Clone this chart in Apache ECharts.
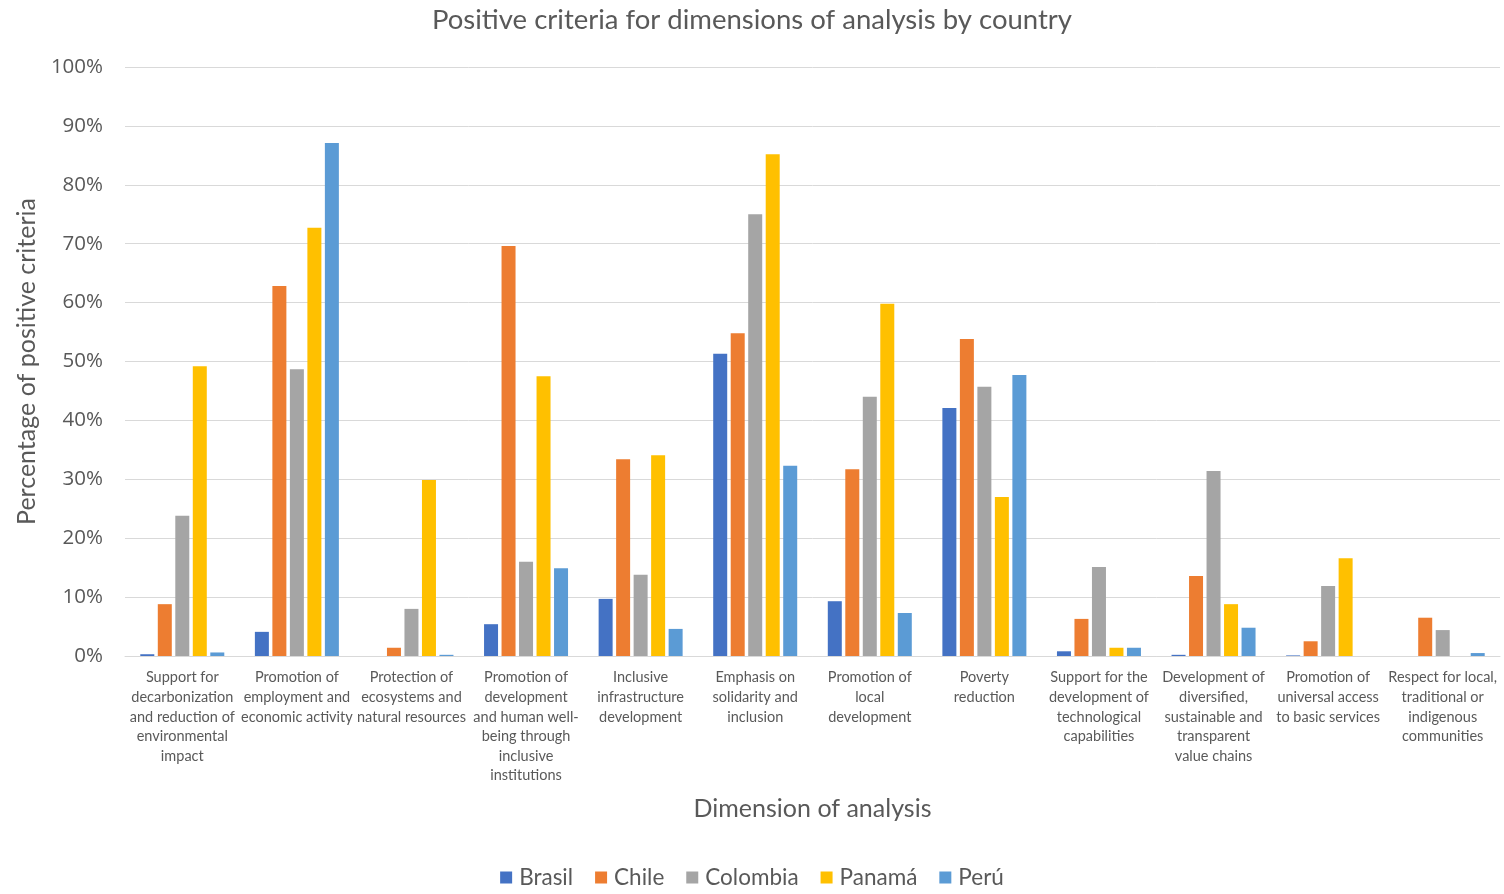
<!DOCTYPE html>
<html>
<head>
<meta charset="utf-8">
<script src="https://cdn.jsdelivr.net/npm/echarts@6/dist/echarts.min.js"></script>
<style>
  html, body { margin: 0; padding: 0; background: #fff; }
  #chart { width: 1504px; height: 894px; }
</style>
</head>
<body>
<div id="chart"></div>
<script>
// Dimensions of analysis (line breaks follow the wrapped axis labels)
const categories = [
  'Support for\ndecarbonization\nand reduction of\nenvironmental\nimpact',
  'Promotion of\nemployment and\neconomic activity',
  'Protection of\necosystems and\nnatural resources',
  'Promotion of\ndevelopment\nand human well-\nbeing through\ninclusive\ninstitutions',
  'Inclusive\ninfrastructure\ndevelopment',
  'Emphasis on\nsolidarity and\ninclusion',
  'Promotion of\nlocal\ndevelopment',
  'Poverty\nreduction',
  'Support for the\ndevelopment of\ntechnological\ncapabilities',
  'Development of\ndiversified,\nsustainable and\ntransparent\nvalue chains',
  'Promotion of\nuniversal access\nto basic services',
  'Respect for local,\ntraditional or\nindigenous\ncommunities'
];

// Share of positive criteria per country (%)
const brasil   = [0.3, 4.1, 0,    5.4, 9.7, 51.3, 9.3, 42.1, 0.8, 0.2, 0.1, 0];
const chile    = [8.8, 62.8, 1.4, 69.6, 33.4, 54.8, 31.7, 53.8, 6.3, 13.6, 2.5, 6.5];
const colombia = [23.8, 48.7, 8.0, 16.0, 13.8, 75.0, 44.0, 45.7, 15.1, 31.4, 11.9, 4.4];
const panama   = [49.2, 72.7, 29.9, 47.5, 34.1, 85.2, 59.8, 27.0, 1.4, 8.8, 16.6, 0];
const peru     = [0.6, 87.1, 0.2, 14.9, 4.6, 32.3, 7.3, 47.7, 1.4, 4.8, 0, 0.5];

const seriesNames = ['Brasil', 'Chile', 'Colombia', 'Panamá', 'Perú'];
const seriesData = [brasil, chile, colombia, panama, peru];
const colors = ['#4472C4', '#ED7D31', '#A5A5A5', '#FFC000', '#5B9BD5'];

const yTicks = [0, 10, 20, 30, 40, 50, 60, 70, 80, 90, 100];

const textColor = '#595959';
const chart = echarts.init(document.getElementById('chart'));

chart.setOption({
  backgroundColor: '#ffffff',
  animation: false,
  color: colors,
  title: {
    text: 'Positive criteria for dimensions of analysis by country',
    left: 'center',
    top: 1,
    textStyle: { fontFamily: 'Lato', fontWeight: 'normal', fontSize: 27.5, color: textColor }
  },
  legend: {
    data: seriesNames,
    bottom: 0,
    left: 'center',
    icon: 'rect',
    itemWidth: 12,
    itemHeight: 12,
    itemGap: 22,
    textStyle: { fontFamily: 'Lato', fontSize: 22.5, color: textColor, padding: [0, 0, 0, 2] }
  },
  grid: { left: 125, right: 4, top: 67, bottom: 238, containLabel: false },
  xAxis: {
    type: 'category',
    data: categories,
    name: 'Dimension of analysis',
    nameLocation: 'middle',
    nameGap: 140,
    nameTextStyle: { fontFamily: 'Lato', fontSize: 25, color: textColor, verticalAlign: 'top' },
    axisLine: { lineStyle: { color: '#d9d9d9' } },
    axisTick: { show: false },
    axisLabel: {
      interval: 0,
      margin: 12,
      fontFamily: 'Lato',
      fontSize: 14.5,
      lineHeight: 19.6,
      color: textColor,
      verticalAlign: 'top'
    }
  },
  yAxis: {
    type: 'value',
    min: 0,
    max: 100,
    interval: 10,
    name: 'Percentage of positive criteria',
    nameLocation: 'middle',
    nameGap: 86,
    nameTextStyle: { fontFamily: 'Lato', fontSize: 25, color: textColor },
    axisLine: { show: false },
    axisTick: { show: false },
    splitLine: { lineStyle: { color: '#d9d9d9', width: 1 } },
    axisLabel: {
      margin: 22,
      fontFamily: 'Open Sans',
      fontSize: 20.5,
      color: textColor,
      customValues: yTicks,
      formatter: v => v + '%'
    }
  },
  series: seriesNames.map((name, i) => ({
    name,
    type: 'bar',
    data: seriesData[i],
    barWidth: 14,
    barGap: '25%',
    itemStyle: { color: colors[i] }
  }))
});
</script>
</body>
</html>
